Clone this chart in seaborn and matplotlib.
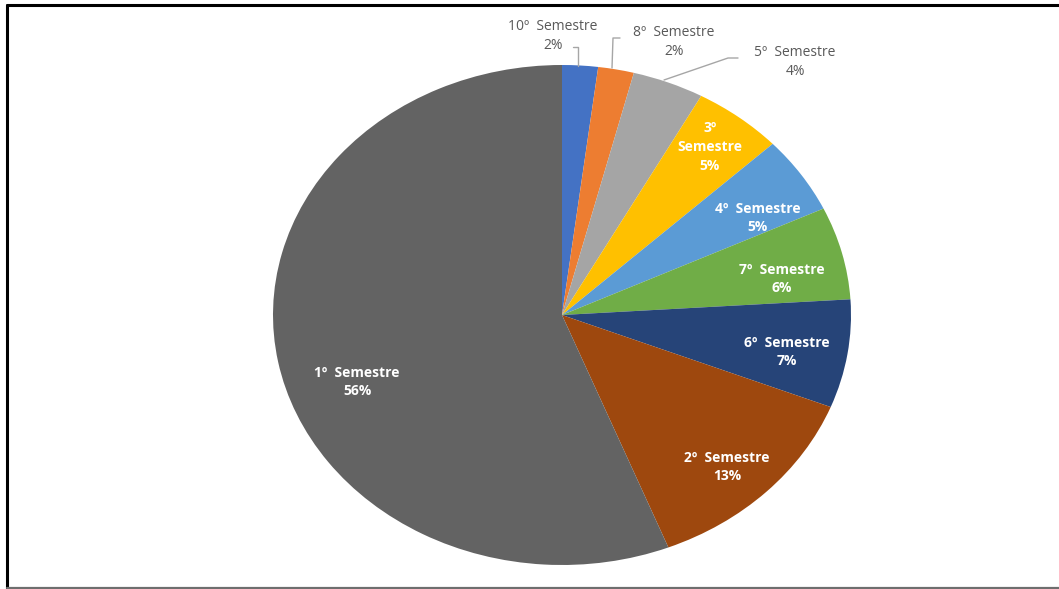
import matplotlib
matplotlib.use("Agg")
import matplotlib.pyplot as plt
from matplotlib.lines import Line2D
import seaborn as sns

# Share of students by semester (clockwise from the top)
semesters = ["10º  Semestre", "8º  Semestre", "5º  Semestre", "3º\nSemestre",
             "4º  Semestre", "7º  Semestre", "6º  Semestre", "2º  Semestre", "1º  Semestre"]
shares = [2, 2, 4, 5, 5, 6, 7, 13, 56]
slice_colors = ["#4472C4", "#ED7D31", "#A5A5A5", "#FFC000", "#5B9BD5",
                "#70AD47", "#264478", "#9E480E", "#636363"]

sns.set_theme(style="white")
plt.rcParams["font.family"] = ["Open Sans", "DejaVu Sans"]

W, H = 1059, 589
fig = plt.figure(figsize=(W / 100, H / 100), dpi=100)

# pie centre and radii in pixels (the chart is stretched horizontally)
cx, cy, rx, ry = 562, 315, 289, 250
ax = fig.add_axes([(cx - rx) / W, 1 - (cy + ry) / H, 2 * rx / W, 2 * ry / H])

palette = sns.color_palette(slice_colors)
ax.pie(shares, colors=palette, startangle=90, counterclock=False,
       wedgeprops=dict(linewidth=0))
ax.set_aspect("auto")
ax.set_xlim(-1, 1)
ax.set_ylim(-1, 1)
ax.axis("off")


def px(x, y):
    """pixel position -> pie data coordinates"""
    return (x - cx) / rx, (cy - y) / ry


# label anchor points (pixels) and whether the label sits inside the slice
label_pos = [(553, 36, False), (674, 42, False), (795, 62, False),
             (710, 147, True), (758, 218, True), (782, 279, True),
             (787, 352, True), (727, 467, True), (357, 382, True)]

for name, val, (lx, ly, inside) in zip(semesters, shares, label_pos):
    x, y = px(lx, ly)
    if inside:
        ax.text(x, y, f"{name}\n{val}%", ha="center", va="center",
                fontsize=10, fontweight="bold", color="white",
                linespacing=1.45)
    else:
        ax.text(x, y, f"{name}\n{val}%", ha="center", va="center",
                fontsize=10, color="#595959", linespacing=1.45)

# leader lines for the small outside labels
leaders = [[(573, 47), (578, 47), (578, 66)],
           [(620, 38), (613, 38), (612, 68)],
           [(738, 58), (728, 58), (664, 80)]]
for pts in leaders:
    xs, ys = zip(*[px(a, b) for a, b in pts])
    ax.plot(xs, ys, color="#A6A6A6", linewidth=1, clip_on=False)

# frame around the chart area
fig.add_artist(Line2D([7 / W, 1], [1 - 5 / H, 1 - 5 / H], color="black", linewidth=2.2))
fig.add_artist(Line2D([7 / W, 7 / W], [1 - 5 / H, 1 - 588 / H], color="black", linewidth=2.2))
fig.add_artist(Line2D([7 / W, 1], [1 - 588 / H, 1 - 588 / H], color="#6E6E6E", linewidth=1.6))

fig.savefig("out.png", dpi=100, facecolor="white")
